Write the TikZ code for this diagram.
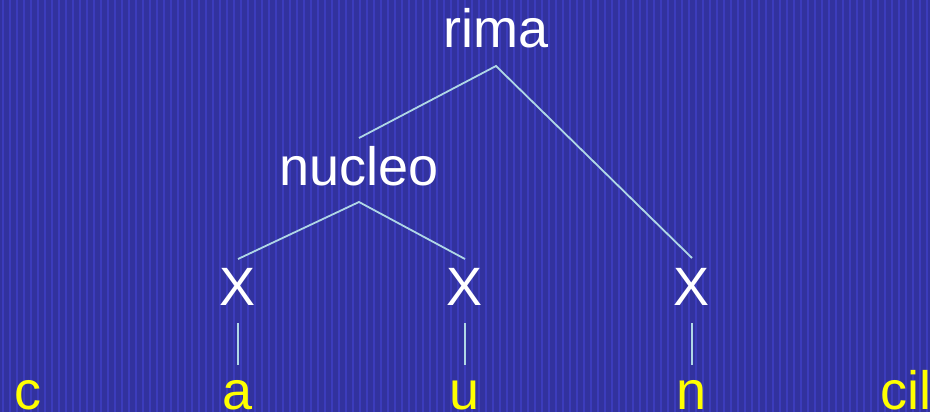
\documentclass[tikz,border=0pt]{standalone}
\usepackage{fontspec}
\setmainfont{Liberation Sans}
\definecolor{bgblue}{RGB}{50,50,158}
\definecolor{stripeblue}{RGB}{60,60,188}
\definecolor{linecol}{RGB}{175,215,230}
\definecolor{ylw}{RGB}{255,255,0}
\tikzset{
  lbl/.style={anchor=base, inner sep=0pt, text=white, font=\fontsize{54}{60}\selectfont},
  xlbl/.style={anchor=base, inner sep=0pt, text=white, font=\fontsize{54}{60}\selectfont},
  seg/.style={anchor=base, inner sep=0pt, text=ylw, font=\fontsize{54}{60}\selectfont},
  branch/.style={draw=linecol, line width=1.8pt}
}
\begin{document}
\begin{tikzpicture}[x=1pt,y=-1pt]
\fill[bgblue] (0,0) rectangle (930,412);
\foreach \i in {2,9,...,930} { \fill[stripeblue] (\i,0) rectangle (\i+2.2,412); }
\useasboundingbox (0,0) rectangle (930,412);
\node[lbl] (rima) at (496,48) {rima};
\node[lbl] (nucleo) at (359,185) {nucleo};
\node[xlbl] (x1) at (238,305) {X};
\node[xlbl] (x2) at (465,305) {X};
\node[xlbl] (x3) at (692,305) {X};
\node[seg] (c) at (28,409) {c};
\node[seg] (a) at (238,409) {a};
\node[seg] (u) at (465,409) {u};
\node[seg] (n) at (692,409) {n};
\node[seg, anchor=base west] (cil) at (880,409) {cil};
\draw[branch] ([yshift=47pt]nucleo.base) -- ([yshift=-18pt]rima.base) -- ([yshift=47pt]x3.base);
\draw[branch] ([yshift=46pt]x1.base) -- ([yshift=-17pt]nucleo.base) -- ([yshift=46pt]x2.base);
\draw[branch] ([yshift=-18pt]x1.base) -- ([yshift=44pt]a.base);
\draw[branch] ([yshift=-18pt]x2.base) -- ([yshift=44pt]u.base);
\draw[branch] ([yshift=-18pt]x3.base) -- ([yshift=44pt]n.base);
\end{tikzpicture}
\end{document}
